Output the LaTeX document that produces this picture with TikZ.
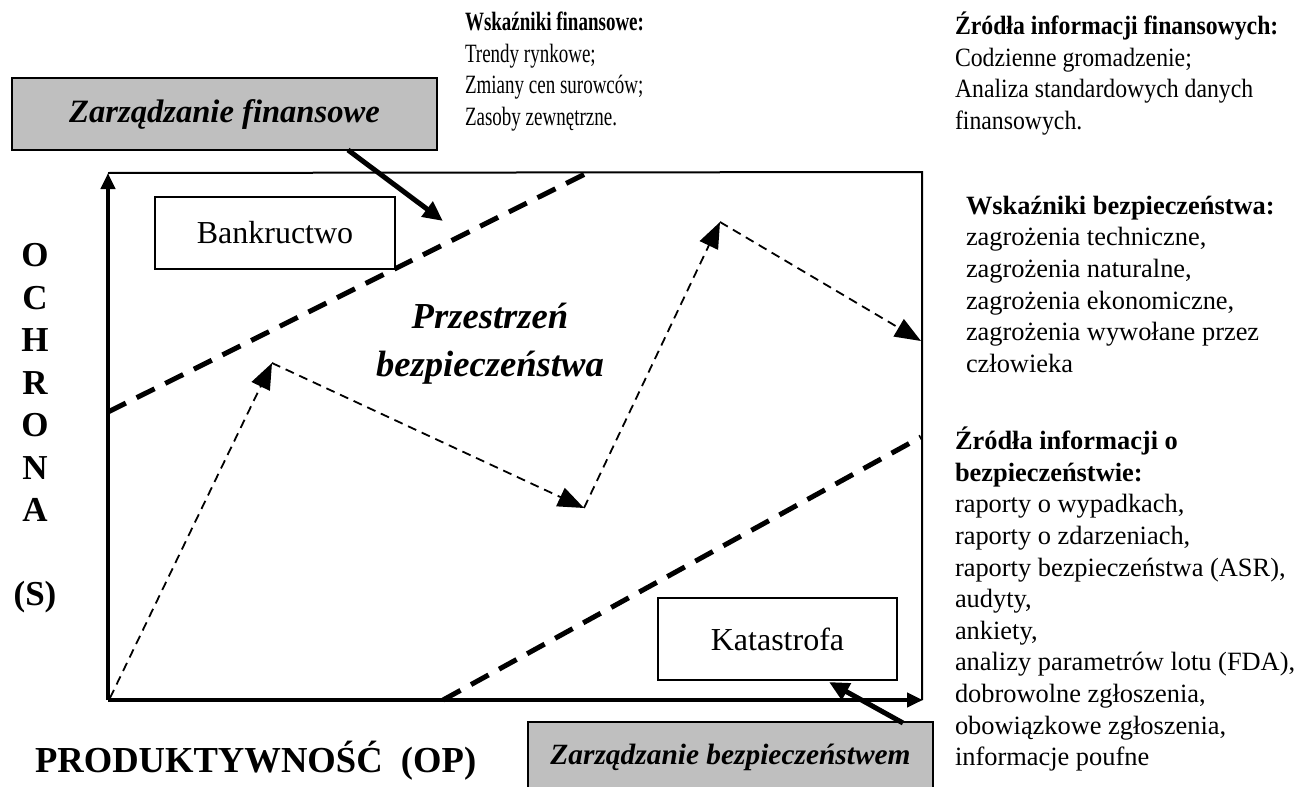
\documentclass[tikz,border=0pt]{standalone}
\usepackage{fontspec}
\setmainfont{Liberation Serif}
\newfontfamily\narrowserif{Liberation Serif}[FakeStretch=0.72]
\newfontfamily\tightserif{Liberation Serif}[FakeStretch=0.9]
\usetikzlibrary{arrows.meta}

\begin{document}
\begin{tikzpicture}[x=0.5pt,y=-0.5pt,
  every node/.style={inner sep=0pt, outer sep=0pt},
  axisline/.style={line width=2.2pt, -{Triangle[length=8pt,width=7pt]}},
  frameline/.style={line width=1pt},
  boundary/.style={line width=2.5pt, dash pattern=on 10pt off 6pt},
  drift/.style={line width=0.9pt, dash pattern=on 4.5pt off 3pt, -{Triangle[length=13pt,width=10pt]}},
  push/.style={line width=2.5pt, -{Triangle[length=10pt,width=9pt]}},
  statebox/.style={draw, line width=0.9pt, fill=white, font=\fontsize{16}{19}\selectfont},
  mgmtbox/.style={draw, line width=1pt, fill=gray!50, font=\bfseries\itshape\fontsize{16.3}{19}\selectfont},
  info/.style={align=left, anchor=north west, font=\fontsize{13.2}{15.8}\selectfont},
  axislabel/.style={font=\bfseries\fontsize{17.5}{21}\selectfont},
  spacelabel/.style={align=center, font=\bfseries\itshape\fontsize{18.3}{24}\selectfont},
]
\useasboundingbox (0,0) rectangle (1302,787);

% key points of the plot area
\coordinate (origin) at (108,700);
\coordinate (ytop)   at (108,173);
\coordinate (xend)   at (923,700);
\coordinate (fcorner) at (922,172);

% thin frame on top and right
\draw[frameline] (ytop) -- (fcorner) -- (922,700);

% axes
\draw[axisline] (origin) -- (ytop);
\draw[axisline] (origin) -- (xend);

% boundaries of the safety space
\coordinate (ub1) at (108,412);
\coordinate (ub2) at (587,173);
\coordinate (lb1) at (443,700);
\coordinate (lb2) at (921,437);
\draw[boundary] (ub1) -- (ub2);
\draw[boundary] (lb1) -- (lb2);

% drifting path inside the safety space
\coordinate (d1) at (272,363);
\coordinate (d2) at (584,508);
\coordinate (d3) at (720,222);
\coordinate (d4) at (921,341);
\draw[drift] (110,698) -- (d1);
\draw[drift] (d1) -- (d2);
\draw[drift] (d2) -- (d3);
\draw[drift] (d3) -- (d4);

% state boxes
\node[statebox, minimum width=120pt, minimum height=36pt] (bank) at (275,233) {Bankructwo};
\node[statebox, minimum width=119.5pt, minimum height=41pt] (kat) at (777.5,639) {Katastrofa};

% management boxes and their influence arrows
\node[mgmtbox, minimum width=212.5pt, minimum height=36pt] (fin) at (224.5,114) {Zarządzanie finansowe};
\node[mgmtbox, minimum width=202.5pt, minimum height=35pt, font=\bfseries\itshape\fontsize{14.7}{17}\selectfont] (bez) at (730.5,757) {Zarządzanie bezpieczeństwem};
\coordinate (fintip) at (443,221);
\coordinate (beztip) at (829,682);
\draw[push] (348,150) -- (fintip);
\draw[push] (903,723) -- (beztip);

% label of the safety space
\node[spacelabel] (space) at (490,344) {Przestrzeń\\bezpieczeństwa};

% vertical axis label
\node[axislabel] (v1) at (35,255) {O};
\node[axislabel] (v2) at (35,298) {C};
\node[axislabel] (v3) at (35,340) {H};
\node[axislabel] (v4) at (35,383) {R};
\node[axislabel] (v5) at (35,425) {O};
\node[axislabel] (v6) at (35,468) {N};
\node[axislabel] (v7) at (35,510) {A};
\node[axislabel] (v8) at (35,597) {(S)};

% horizontal axis label
\node[axislabel, anchor=west, font=\bfseries\fontsize{18.3}{21}\selectfont] (hlab) at (35,761) {PRODUKTYWNOŚĆ\ \ (OP)};

% indicator and source lists
\node[info, font=\narrowserif\fontsize{13.2}{15.8}\selectfont] (finind) at (465,12) {\textbf{Wskaźniki finansowe:}\\Trendy rynkowe;\\Zmiany cen surowców;\\Zasoby zewnętrzne.};
\node[info, font=\tightserif\fontsize{13.2}{15.8}\selectfont] (finsrc) at (955,12) {\textbf{Źródła informacji finansowych:}\\Codzienne gromadzenie;\\Analiza standardowych danych\\finansowych.};
\node[info] (safind) at (966,196) {\textbf{Wskaźniki bezpieczeństwa:}\\zagrożenia techniczne,\\zagrożenia naturalne,\\zagrożenia ekonomiczne,\\zagrożenia wywołane przez\\człowieka};
\node[info] (safsrc) at (955,427) {\textbf{Źródła informacji o}\\\textbf{bezpieczeństwie:}\\raporty o wypadkach,\\raporty o zdarzeniach,\\raporty bezpieczeństwa (ASR),\\audyty,\\ankiety,\\analizy parametrów lotu (FDA),\\dobrowolne zgłoszenia,\\obowiązkowe zgłoszenia,\\informacje poufne};
\end{tikzpicture}
\end{document}
